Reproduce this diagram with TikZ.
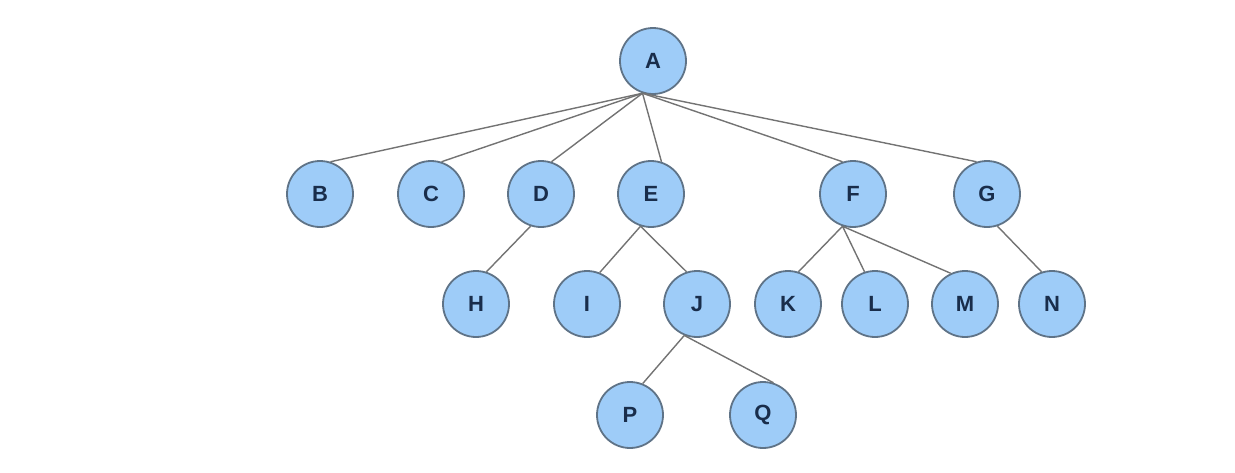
\documentclass[tikz,border=0pt]{standalone}
\usepackage{fontspec}
\setmainfont{Liberation Sans}

\definecolor{nodefill}{RGB}{158,204,248}
\definecolor{nodeline}{RGB}{95,115,135}
\definecolor{nodetext}{RGB}{25,45,75}
\definecolor{edgeline}{RGB}{115,115,115}

\begin{document}
\begin{tikzpicture}[x=1pt,y=-1pt]
\tikzstyle{v}=[circle,draw=nodeline,line width=1.8pt,fill=nodefill,minimum size=66pt,inner sep=0pt,text=nodetext,font=\fontsize{22}{26}\selectfont\bfseries]
\tikzstyle{e}=[draw=edgeline,line width=1.4pt]
\useasboundingbox (0,0) rectangle (1235,472);
% root
\node[v] (A) at (653,61) {A};
% first level
\node[v] (B) at (320,194) {B};
\node[v] (C) at (431,194) {C};
\node[v] (D) at (541,194) {D};
\node[v] (E) at (651,194) {E};
\node[v] (F) at (853,194) {F};
\node[v] (G) at (987,194) {G};
% second level
\node[v] (H) at (476,304) {H};
\node[v] (I) at (587,304) {I};
\node[v] (J) at (697,304) {J};
\node[v] (K) at (788,304) {K};
\node[v] (L) at (875,304) {L};
\node[v] (M) at (965,304) {M};
\node[v] (N) at (1052,304) {N};
% third level
\node[v] (P) at (630,415) {P};
\node[v] (Q) at (763,415) {Q};
% edges
\foreach \p/\pa/\c/\ca in {A/252/B/72,A/252/C/72,A/252/D/72,A/252/E/72,A/252/F/108,A/252/G/108,
  D/252/H/72,E/252/I/68,E/252/J/108,F/252/K/72,F/252/L/108,F/252/M/115,G/288/N/108,J/248/P/68,J/248/Q/72}
  \draw[e] (\p.\pa) -- (\c.\ca);
\end{tikzpicture}
\end{document}
